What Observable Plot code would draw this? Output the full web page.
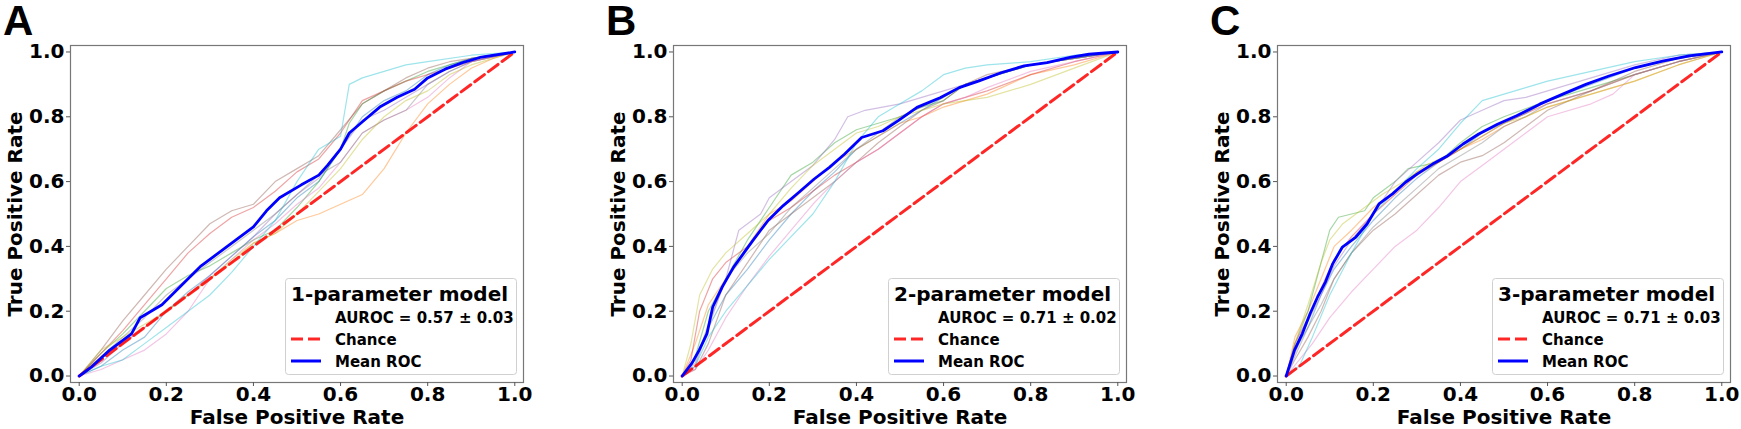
<!DOCTYPE html>
<html>
<head>
<meta charset="utf-8">
<script src="https://cdn.jsdelivr.net/npm/d3@7"></script>
<script src="https://cdn.jsdelivr.net/npm/@observablehq/plot@0.6"></script>
<style>
  body { margin: 0; background: #fff; overflow: hidden; }
  #fig { position: relative; width: 1741px; height: 429px; background: #fff; }
  .panel { position: absolute; top: 0; width: 534px; height: 429px; }
</style>
</head>
<body>
<div id="fig"></div>
<script>
// ---------- data ----------
const panelLetters = ["A", "B", "C"];
const modelNames = ["1-parameter model", "2-parameter model", "3-parameter model"];
const aurocMean = ["0.57", "0.71", "0.71"];
const aurocStd = ["0.03", "0.02", "0.03"];
const tickValues = [0, 0.2, 0.4, 0.6, 0.8, 1.0];
const xTitle = "False Positive Rate";
const yTitle = "True Positive Rate";
const chanceX = [0, 1];
const chanceY = [0, 1];
const foldColors = ["#1f77b4", "#ff7f0e", "#2ca02c", "#d62728", "#9467bd", "#8c564b", "#e377c2", "#7f7f7f", "#bcbd22", "#17becf"];

// Panel A
const meanAx = [0,0.03,0.07,0.12,0.14,0.19,0.22,0.25,0.28,0.32,0.36,0.40,0.43,0.46,0.51,0.55,0.57,0.60,0.62,0.655,0.69,0.73,0.77,0.80,0.84,0.88,0.92,1];
const meanAy = [0,0.03,0.08,0.13,0.18,0.22,0.26,0.30,0.34,0.38,0.42,0.46,0.51,0.55,0.59,0.62,0.65,0.70,0.75,0.79,0.83,0.86,0.885,0.92,0.947,0.967,0.983,1];
const foldsAx = [
  [0,0.05,0.1,0.15,0.2,0.25,0.3,0.35,0.4,0.45,0.5,0.55,0.6,0.65,0.7,0.75,0.8,0.85,0.9,1],
  [0,0.05,0.1,0.15,0.2,0.25,0.3,0.35,0.4,0.45,0.5,0.55,0.6,0.65,0.7,0.75,0.8,0.85,0.9,0.95,1],
  [0,0.05,0.1,0.15,0.2,0.25,0.3,0.35,0.4,0.45,0.5,0.55,0.6,0.62,0.65,0.7,0.75,0.8,0.85,0.9,1],
  [0,0.05,0.1,0.15,0.2,0.25,0.3,0.35,0.4,0.45,0.5,0.55,0.6,0.65,0.7,0.75,0.8,0.85,0.9,1],
  [0,0.05,0.1,0.15,0.2,0.25,0.3,0.35,0.4,0.45,0.5,0.55,0.6,0.65,0.7,0.75,0.8,0.85,0.9,1],
  [0,0.05,0.1,0.15,0.2,0.25,0.3,0.35,0.4,0.45,0.5,0.55,0.6,0.65,0.7,0.75,0.8,0.85,0.9,1],
  [0,0.05,0.1,0.15,0.2,0.25,0.3,0.35,0.4,0.45,0.5,0.55,0.6,0.65,0.7,0.75,0.8,0.85,0.9,1],
  [0,0.05,0.1,0.15,0.2,0.25,0.3,0.35,0.4,0.45,0.5,0.55,0.6,0.65,0.7,0.75,0.8,0.85,0.9,1],
  [0,0.05,0.1,0.15,0.2,0.25,0.3,0.35,0.4,0.45,0.5,0.55,0.6,0.65,0.7,0.75,0.8,0.85,0.9,1],
  [0,0.05,0.1,0.15,0.2,0.25,0.3,0.35,0.4,0.45,0.5,0.55,0.6,0.62,0.65,0.7,0.75,0.8,0.9,1]
];
const foldsAy = [
  [0,0.03,0.08,0.12,0.2,0.26,0.31,0.37,0.43,0.48,0.55,0.6,0.7,0.8,0.85,0.88,0.93,0.96,0.98,1],
  [0,0.06,0.1,0.15,0.2,0.25,0.3,0.35,0.41,0.44,0.48,0.5,0.53,0.56,0.64,0.75,0.84,0.9,0.95,0.98,1],
  [0,0.07,0.13,0.2,0.27,0.31,0.34,0.38,0.42,0.45,0.52,0.6,0.7,0.78,0.84,0.88,0.91,0.94,0.96,0.98,1],
  [0,0.07,0.14,0.22,0.3,0.38,0.44,0.49,0.52,0.57,0.63,0.67,0.75,0.85,0.88,0.91,0.93,0.95,0.97,1],
  [0,0.04,0.1,0.15,0.2,0.25,0.31,0.37,0.43,0.5,0.56,0.61,0.7,0.79,0.82,0.86,0.9,0.94,0.97,1],
  [0,0.08,0.17,0.25,0.33,0.4,0.47,0.51,0.53,0.6,0.64,0.68,0.76,0.84,0.88,0.92,0.95,0.97,0.98,1],
  [0,0.02,0.05,0.08,0.13,0.2,0.3,0.36,0.42,0.47,0.53,0.58,0.66,0.75,0.79,0.82,0.86,0.92,0.97,1],
  [0,0.06,0.12,0.18,0.25,0.3,0.35,0.4,0.45,0.5,0.56,0.62,0.66,0.75,0.79,0.82,0.9,0.94,0.97,1],
  [0,0.08,0.12,0.16,0.2,0.25,0.3,0.36,0.41,0.44,0.5,0.57,0.64,0.73,0.8,0.85,0.88,0.93,0.96,1],
  [0,0.03,0.05,0.1,0.15,0.2,0.25,0.32,0.4,0.48,0.6,0.7,0.74,0.9,0.92,0.94,0.96,0.97,0.99,1]
];

// Panel B
const meanBx = [0,0.022,0.039,0.057,0.07,0.092,0.118,0.14,0.162,0.197,0.232,0.268,0.303,0.338,0.373,0.412,0.461,0.496,0.539,0.592,0.636,0.68,0.732,0.785,0.838,0.89,0.934,1];
const meanBy = [0,0.039,0.08,0.131,0.213,0.275,0.336,0.377,0.418,0.48,0.526,0.567,0.608,0.644,0.685,0.736,0.757,0.788,0.829,0.859,0.89,0.91,0.936,0.957,0.967,0.983,0.993,1];
const foldsBx = [
  [0,0.03,0.06,0.1,0.15,0.2,0.25,0.3,0.35,0.4,0.45,0.5,0.55,0.6,0.65,0.7,0.8,0.9,1],
  [0,0.03,0.06,0.1,0.15,0.2,0.25,0.3,0.35,0.4,0.45,0.5,0.55,0.6,0.65,0.7,0.75,0.8,0.9,1],
  [0,0.03,0.06,0.1,0.15,0.2,0.25,0.3,0.35,0.4,0.45,0.5,0.55,0.6,0.65,0.7,0.8,0.9,1],
  [0,0.02,0.04,0.07,0.1,0.15,0.2,0.25,0.3,0.35,0.4,0.45,0.5,0.55,0.6,0.65,0.7,0.8,0.9,1],
  [0,0.03,0.06,0.1,0.13,0.18,0.2,0.25,0.3,0.35,0.38,0.42,0.5,0.55,0.6,0.7,0.8,0.9,1],
  [0,0.03,0.06,0.1,0.15,0.2,0.25,0.3,0.35,0.4,0.45,0.5,0.55,0.6,0.65,0.7,0.8,0.9,1],
  [0,0.03,0.06,0.1,0.15,0.2,0.25,0.3,0.35,0.4,0.45,0.5,0.55,0.6,0.65,0.7,0.8,0.9,1],
  [0,0.03,0.06,0.1,0.15,0.2,0.25,0.3,0.35,0.4,0.45,0.5,0.55,0.6,0.65,0.7,0.8,0.9,1],
  [0,0.02,0.04,0.07,0.1,0.15,0.2,0.25,0.3,0.35,0.4,0.45,0.5,0.55,0.6,0.7,0.8,0.9,1],
  [0,0.03,0.06,0.1,0.15,0.2,0.25,0.3,0.35,0.4,0.45,0.5,0.55,0.6,0.65,0.7,0.8,0.9,1]
];
const foldsBy = [
  [0,0.05,0.15,0.25,0.33,0.42,0.5,0.57,0.63,0.7,0.74,0.78,0.82,0.86,0.9,0.92,0.96,0.98,1],
  [0,0.1,0.22,0.3,0.4,0.5,0.54,0.6,0.66,0.7,0.74,0.78,0.8,0.83,0.85,0.87,0.9,0.93,0.96,1],
  [0,0.06,0.2,0.3,0.42,0.52,0.62,0.66,0.72,0.76,0.78,0.8,0.83,0.85,0.9,0.92,0.96,0.98,1],
  [0,0.05,0.2,0.3,0.35,0.4,0.48,0.52,0.57,0.62,0.66,0.7,0.75,0.8,0.84,0.86,0.88,0.93,0.97,1],
  [0,0.03,0.15,0.3,0.45,0.5,0.55,0.6,0.65,0.73,0.8,0.82,0.84,0.86,0.88,0.92,0.96,0.98,1],
  [0,0.02,0.1,0.25,0.35,0.45,0.5,0.55,0.6,0.66,0.72,0.77,0.82,0.85,0.9,0.93,0.96,0.98,1],
  [0,0.02,0.08,0.18,0.28,0.37,0.45,0.53,0.6,0.66,0.7,0.75,0.8,0.84,0.86,0.89,0.94,0.97,1],
  [0,0.04,0.16,0.3,0.38,0.44,0.52,0.58,0.64,0.7,0.75,0.8,0.83,0.86,0.9,0.92,0.96,0.98,1],
  [0,0.1,0.25,0.33,0.38,0.44,0.5,0.58,0.65,0.7,0.75,0.77,0.8,0.82,0.84,0.86,0.9,0.95,1],
  [0,0.03,0.12,0.2,0.28,0.36,0.43,0.5,0.6,0.72,0.8,0.84,0.88,0.93,0.95,0.96,0.97,0.99,1]
];

// Panel C
const meanCx = [0,0.019,0.037,0.055,0.072,0.09,0.107,0.129,0.16,0.186,0.213,0.244,0.274,0.301,0.336,0.371,0.406,0.442,0.485,0.529,0.582,0.635,0.688,0.741,0.802,0.864,0.925,1];
const meanCy = [0,0.08,0.131,0.193,0.244,0.29,0.347,0.398,0.429,0.47,0.531,0.562,0.598,0.624,0.654,0.68,0.716,0.747,0.777,0.803,0.839,0.87,0.9,0.926,0.952,0.972,0.988,1];
const foldsCx = [
  [0,0.02,0.05,0.08,0.11,0.15,0.2,0.25,0.3,0.35,0.4,0.45,0.5,0.55,0.6,0.7,0.8,0.9,1],
  [0,0.02,0.05,0.08,0.11,0.15,0.2,0.25,0.3,0.35,0.4,0.45,0.5,0.55,0.6,0.7,0.8,0.9,1],
  [0,0.02,0.05,0.08,0.1,0.12,0.18,0.2,0.25,0.28,0.35,0.4,0.45,0.5,0.6,0.7,0.8,0.9,1],
  [0,0.02,0.05,0.08,0.11,0.15,0.2,0.25,0.3,0.35,0.4,0.45,0.5,0.55,0.6,0.7,0.8,0.9,1],
  [0,0.02,0.05,0.08,0.11,0.15,0.2,0.25,0.3,0.35,0.4,0.45,0.5,0.55,0.6,0.7,0.8,0.9,1],
  [0,0.02,0.05,0.08,0.11,0.15,0.2,0.25,0.3,0.35,0.4,0.45,0.5,0.55,0.6,0.7,0.8,0.9,1],
  [0,0.03,0.06,0.1,0.15,0.2,0.25,0.3,0.35,0.4,0.45,0.5,0.55,0.6,0.7,0.75,0.8,0.9,1],
  [0,0.02,0.05,0.08,0.11,0.15,0.2,0.25,0.3,0.35,0.4,0.45,0.5,0.55,0.6,0.7,0.8,0.9,1],
  [0,0.02,0.05,0.08,0.1,0.13,0.18,0.22,0.27,0.32,0.4,0.45,0.5,0.55,0.6,0.7,0.8,0.9,1],
  [0,0.03,0.06,0.1,0.15,0.2,0.25,0.3,0.35,0.4,0.45,0.5,0.55,0.6,0.7,0.8,0.9,1]
];
const foldsCy = [
  [0,0.08,0.15,0.25,0.33,0.4,0.48,0.55,0.61,0.66,0.7,0.75,0.78,0.81,0.85,0.9,0.95,0.98,1],
  [0,0.12,0.2,0.3,0.4,0.45,0.52,0.57,0.63,0.66,0.7,0.73,0.77,0.8,0.83,0.87,0.91,0.96,1],
  [0,0.1,0.2,0.35,0.45,0.49,0.51,0.55,0.6,0.64,0.66,0.72,0.77,0.8,0.85,0.89,0.93,0.97,1],
  [0,0.1,0.18,0.27,0.36,0.43,0.5,0.56,0.62,0.66,0.7,0.74,0.78,0.81,0.84,0.88,0.93,0.97,1],
  [0,0.07,0.17,0.25,0.34,0.42,0.5,0.6,0.66,0.72,0.79,0.82,0.85,0.86,0.88,0.92,0.96,0.99,1],
  [0,0.05,0.12,0.2,0.3,0.38,0.45,0.5,0.56,0.62,0.66,0.68,0.72,0.77,0.82,0.88,0.94,0.98,1],
  [0,0.05,0.1,0.18,0.26,0.33,0.4,0.45,0.52,0.6,0.65,0.7,0.75,0.8,0.84,0.87,0.93,0.97,1],
  [0,0.06,0.15,0.22,0.3,0.38,0.46,0.52,0.58,0.64,0.68,0.72,0.77,0.8,0.84,0.88,0.93,0.97,1],
  [0,0.1,0.22,0.35,0.42,0.47,0.52,0.56,0.6,0.65,0.7,0.74,0.78,0.8,0.83,0.87,0.91,0.96,1],
  [0,0.03,0.12,0.25,0.38,0.5,0.57,0.64,0.7,0.78,0.85,0.87,0.89,0.91,0.94,0.97,0.99,1]
];

const panelFoldsX = [foldsAx, foldsBx, foldsCx];
const panelFoldsY = [foldsAy, foldsBy, foldsCy];
const panelMeanX = [meanAx, meanBx, meanCx];
const panelMeanY = [meanAy, meanBy, meanCy];

// ---------- drawing ----------
const fig = document.getElementById("fig");
const panelLefts = [0, 603, 1207];
const fmt = d3.format(".1f");

panelLetters.forEach((letter, p) => {
  const folds = panelFoldsX[p].flatMap((xs, i) => xs.map((x, j) => ({fold: i, x, y: panelFoldsY[p][i][j], c: foldColors[i]})));
  const mean = panelMeanX[p].map((x, j) => ({x, y: panelMeanY[p][j]}));
  const chance = chanceX.map((x, j) => ({x, y: chanceY[j]}));

  const svg = Plot.plot({
    width: 534, height: 429,
    marginLeft: 70, marginRight: 11, marginTop: 45, marginBottom: 47,
    x: {domain: [-0.02, 1.02]},
    y: {domain: [-0.02, 1.02]},
    color: {type: "identity"},
    style: {fontFamily: "'DejaVu Sans', sans-serif", fontWeight: "bold", fontSize: "20px", color: "#000", background: "white", overflow: "visible"},
    marks: [
      Plot.line(folds, {x: "x", y: "y", z: "fold", stroke: "c", strokeOpacity: 0.42, strokeWidth: 1.2}),
      Plot.line(chance, {x: "x", y: "y", stroke: "#ff0000", strokeOpacity: 0.85, strokeWidth: 3, strokeDasharray: "12,5"}),
      Plot.line(mean, {x: "x", y: "y", stroke: "#0000ff", strokeWidth: 2.8}),
      Plot.frame({stroke: "#777", strokeWidth: 1.2}),
      Plot.axisX({ticks: tickValues, tickFormat: fmt, tickSize: 4, tickPadding: 0, label: null, stroke: "#555"}),
      Plot.axisY({ticks: tickValues, tickFormat: fmt, tickSize: 4, tickPadding: 2, label: null, stroke: "#555"}),
      Plot.text([xTitle], {text: d => d, frameAnchor: "bottom", dy: 35.5, lineAnchor: "middle", textAnchor: "middle", fill: "#000"}),
      Plot.text([yTitle], {text: d => d, frameAnchor: "left", dx: -54.5, rotate: -90, lineAnchor: "middle", textAnchor: "middle", fill: "#000"})
    ]
  });

  const s = d3.select(svg);
  // panel letter
  s.append("text").attr("x", 3).attr("y", 35).attr("text-anchor", "start")
    .attr("font-family", "'Liberation Sans', Arial, sans-serif").attr("font-weight", "bold").attr("font-size", 42)
    .text(letter);
  // legend inside the svg
  const g = s.append("g")
    .attr("font-family", "'DejaVu Sans', sans-serif").attr("font-weight", "bold").attr("text-anchor", "start");
  g.append("rect").attr("x", 285.5).attr("y", 278.5).attr("width", 231).attr("height", 96).attr("rx", 3)
    .attr("fill", "white").attr("fill-opacity", 0.8).attr("stroke", "#d0d0d0");
  g.append("text").attr("x", 291).attr("y", 300.5).attr("font-size", 20).text(modelNames[p]);
  g.append("text").attr("x", 335).attr("y", 322.5).attr("font-size", 15).text(`AUROC = ${aurocMean[p]} ± ${aurocStd[p]}`);
  g.append("line").attr("x1", 291).attr("x2", 321).attr("y1", 339).attr("y2", 339)
    .attr("stroke", "#ff0000").attr("stroke-opacity", 0.85).attr("stroke-width", 3).attr("stroke-dasharray", "12,5");
  g.append("text").attr("x", 335).attr("y", 344.5).attr("font-size", 15).text("Chance");
  g.append("line").attr("x1", 291).attr("x2", 321).attr("y1", 361).attr("y2", 361)
    .attr("stroke", "#0000ff").attr("stroke-width", 3);
  g.append("text").attr("x", 335).attr("y", 366.5).attr("font-size", 15).text("Mean ROC");

  const div = document.createElement("div");
  div.className = "panel";
  div.style.left = panelLefts[p] + "px";
  div.appendChild(svg);
  fig.appendChild(div);
});
</script>
</body>
</html>
